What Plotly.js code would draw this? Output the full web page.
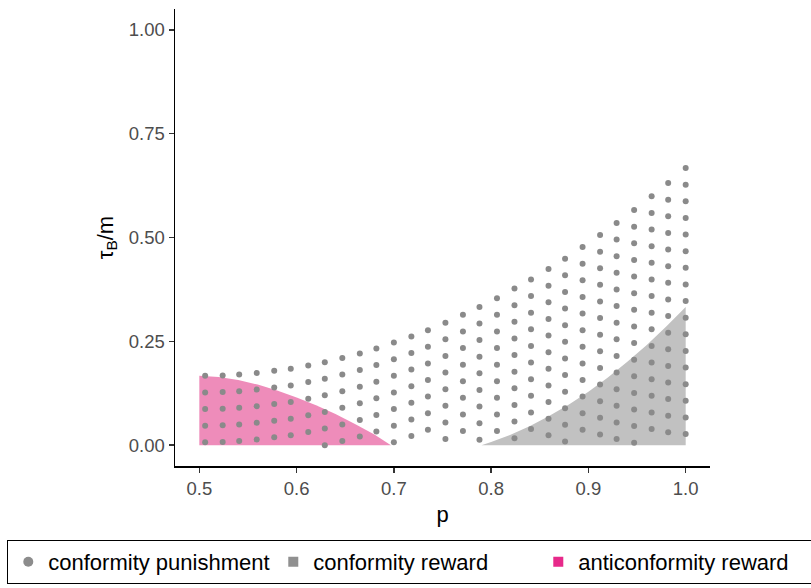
<!DOCTYPE html>
<html><head><meta charset="utf-8">
<script src="https://cdn.plot.ly/plotly-3.0.1.min.js"></script>
<style>html,body{margin:0;padding:0;background:#fff}#chart{width:811px;height:588px}</style>
</head><body><div id="chart"></div>
<script>
// Column positions (p) of the conformity-punishment dots
const punishP = [0.506,0.524,0.541,0.559,0.577,0.594,0.612,0.629,0.647,0.665,0.682,0.700,0.718,0.735,0.753,0.771,0.788,0.806,0.824,0.841,0.859,0.876,0.894,0.912,0.929,0.947,0.965,0.982,1.000];
// tau_B/m values of the dots in each column
const punishY = [
 [0.167,0.127,0.087,0.047,0.007],
 [0.168,0.128,0.088,0.048,0.008],
 [0.170,0.130,0.090,0.050,0.010],
 [0.174,0.134,0.094,0.054,0.014],
 [0.179,0.139,0.099,0.059,0.019],
 [0.184,0.144,0.104,0.064,0.024],
 [0.192,0.152,0.112,0.072,0.032],
 [0.200,0.160,0.120,0.080,0.040,0.000],
 [0.210,0.170,0.130,0.090,0.050,0.010],
 [0.221,0.181,0.141,0.101,0.061,0.021],
 [0.233,0.193,0.153,0.113,0.073,0.033],
 [0.247,0.207,0.167,0.127,0.087,0.047,0.007],
 [0.262,0.222,0.182,0.142,0.102,0.062,0.022],
 [0.277,0.237,0.197,0.157,0.117,0.077,0.037],
 [0.295,0.255,0.215,0.175,0.135,0.095,0.055,0.015],
 [0.314,0.274,0.234,0.194,0.154,0.114,0.074,0.034],
 [0.333,0.293,0.253,0.213,0.173,0.133,0.093,0.053,0.013],
 [0.354,0.314,0.274,0.234,0.194,0.154,0.114,0.074,0.034],
 [0.377,0.337,0.297,0.257,0.217,0.177,0.137,0.097,0.057,0.017],
 [0.399,0.359,0.319,0.279,0.239,0.199,0.159,0.119,0.079,0.039],
 [0.424,0.384,0.344,0.304,0.264,0.224,0.184,0.144,0.104,0.064,0.024],
 [0.449,0.409,0.369,0.329,0.289,0.249,0.209,0.169,0.129,0.089,0.049,0.009],
 [0.477,0.437,0.397,0.357,0.317,0.277,0.237,0.197,0.157,0.117,0.077,0.037],
 [0.506,0.466,0.426,0.386,0.346,0.306,0.266,0.226,0.186,0.146,0.106,0.066,0.026],
 [0.535,0.495,0.455,0.415,0.375,0.335,0.295,0.255,0.215,0.175,0.135,0.095,0.055,0.015],
 [0.566,0.526,0.486,0.446,0.406,0.366,0.326,0.286,0.246,0.206,0.166,0.126,0.086,0.046,0.006],
 [0.599,0.559,0.519,0.479,0.439,0.399,0.359,0.319,0.279,0.239,0.199,0.159,0.119,0.079,0.039],
 [0.631,0.591,0.551,0.511,0.471,0.431,0.391,0.351,0.311,0.271,0.231,0.191,0.151,0.111,0.071,0.031],
 [0.667,0.627,0.587,0.547,0.507,0.467,0.427,0.387,0.347,0.307,0.267,0.227,0.187,0.147,0.107,0.067,0.027]
];
// Anticonformity reward region: upper boundary
const antiP   = [0.500,0.520,0.540,0.560,0.580,0.600,0.620,0.640,0.660,0.680,0.697];
const antiTop = [0.167,0.164,0.157,0.146,0.132,0.115,0.096,0.075,0.051,0.026,0.000];
// Conformity reward region: upper boundary
const confP   = [0.790,0.800,0.820,0.840,0.860,0.880,0.900,0.920,0.940,0.960,0.980,1.000];
const confTop = [0.000,0.008,0.025,0.046,0.071,0.098,0.129,0.163,0.201,0.241,0.286,0.333];
// Axis ticks
const xTicks = [0.5,0.6,0.7,0.8,0.9,1.0];
const xTickText = ['0.5','0.6','0.7','0.8','0.9','1.0'];
const yTicks = [0,0.25,0.5,0.75,1];
const yTickText = ['0.00','0.25','0.50','0.75','1.00'];
const seriesNames = ['conformity punishment','conformity reward','anticonformity reward'];

const dotX = [], dotY = [];
punishP.forEach((p, i) => punishY[i].forEach(v => { dotX.push(p); dotY.push(v); }));

const antiX = [antiP[0]].concat(antiP);
const antiY = [0].concat(antiTop);
const confX = confP.concat([confP[confP.length-1]]);
const confY = confTop.concat([0]);

const traces = [
  {type:'scatter', mode:'none', x:antiX, y:antiY, fill:'toself', fillcolor:'#ee8cba',
   line:{width:0}, showlegend:false, hoverinfo:'skip'},
  {type:'scatter', mode:'none', x:confX, y:confY, fill:'toself', fillcolor:'#c1c1c1',
   line:{width:0}, showlegend:false, hoverinfo:'skip'},
  {type:'scatter', mode:'markers', x:dotX, y:dotY, name:seriesNames[0],
   marker:{color:'#8a8a8a', size:6, symbol:'circle'}, showlegend:false},
  {type:'scatter', mode:'markers', x:[null], y:[null], name:seriesNames[0],
   marker:{color:'#8c8c8c', size:10, symbol:'circle'}},
  {type:'scatter', mode:'markers', x:[null], y:[null], name:seriesNames[1],
   marker:{color:'#909090', size:10, symbol:'square'}},
  {type:'scatter', mode:'markers', x:[null], y:[null], name:seriesNames[2], legendwidth:236,
   marker:{color:'#e7298a', size:10, symbol:'square'}}
];

const font = 'Liberation Sans, Arial, Helvetica, sans-serif';
const layout = {
  width:811, height:588,
  margin:{l:175, r:0, t:9, b:122, autoexpand:false},
  paper_bgcolor:'#ffffff', plot_bgcolor:'#ffffff',
  font:{family:font, color:'#000000'},
  xaxis:{domain:[0,0.8412], range:[0.475,1.025], tickmode:'array', tickvals:xTicks, ticktext:xTickText,
    showline:true, linecolor:'#000000', linewidth:1.5, ticks:'outside', ticklen:5, tickwidth:1.5,
    tickcolor:'#333333', tickfont:{family:font, size:18.5, color:'#4d4d4d'},
    showgrid:false, zeroline:false, automargin:false,
    title:{text:'p', standoff:9, font:{family:font, size:22, color:'#000'}}},
  yaxis:{range:[-0.05,1.05], tickmode:'array', tickvals:yTicks, ticktext:yTickText,
    showline:true, linecolor:'#000000', linewidth:1.5, ticks:'outside', ticklen:5, tickwidth:1.5,
    tickcolor:'#333333', tickfont:{family:font, size:18.5, color:'#4d4d4d'},
    showgrid:false, zeroline:false, automargin:false,
    title:{text:'τ<sub>B</sub>/m', standoff:9, font:{family:font, size:22, color:'#000'}}},
  showlegend:true,
  legend:{orientation:'h', x:-0.2637, xanchor:'left', y:-0.21, yanchor:'middle',
    bordercolor:'#000000', borderwidth:1, bgcolor:'#ffffff',
    font:{family:font, size:22, color:'#000'}, entrywidth:220, entrywidthmode:'pixels', traceorder:'normal'}
};

Plotly.newPlot('chart', traces, layout, {displayModeBar:false, staticPlot:true});
</script>
</body></html>
